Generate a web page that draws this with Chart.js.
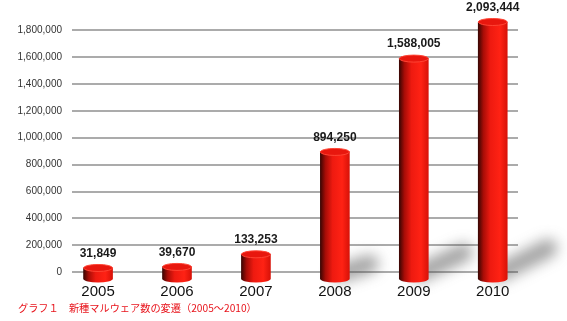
<!DOCTYPE html>
<html>
<head>
<meta charset="utf-8">
<script src="https://cdn.jsdelivr.net/npm/chart.js@4"></script>
<style>
  html, body { margin: 0; padding: 0; background: #fff; }
</style>
</head>
<body>
<canvas id="malware" width="567" height="321"></canvas>
<script>
    var years = [2005, 2006, 2007, 2008, 2009, 2010];
    var malwareCounts = [31849, 39670, 133253, 894250, 1588005, 2093444];
    var yTickValues = [0, 200000, 400000, 600000, 800000, 1000000, 1200000, 1400000, 1600000, 1800000];
    var caption = 'グラフ１　新種マルウェア数の変遷（2005～2010）';

    var ctx = document.getElementById('malware').getContext('2d');

    function cylinderFill(c2d, cx, rx) {
        var g = c2d.createLinearGradient(cx - rx, 0, cx + rx, 0);
        g.addColorStop(0, '#3c0603');
        g.addColorStop(0.18, '#a80d07');
        g.addColorStop(0.42, '#ee1a10');
        g.addColorStop(0.75, '#ff2214');
        g.addColorStop(1, '#d81208');
        return g;
    }

    // red cylinder shading, one gradient per bar
    function barGradient(c) {
        var chart = c.chart;
        var xs = chart.scales.x;
        if (!xs || c.dataIndex === undefined) return '#f01a10';
        var cx = xs.getPixelForValue(years[c.dataIndex]);
        if (!isFinite(cx)) return '#f01a10';
        return cylinderFill(chart.ctx, cx, 14.5);
    }

    var cylinder = {
        id: 'cylinder',
        beforeDatasetsDraw: function (chart) {
            var c = chart.ctx, area = chart.chartArea;
            chart.getDatasetMeta(0).data.forEach(function (bar) {
                var top = Math.max(bar.y, area.top);
                var h = bar.base - top;
                if (h < 60) return;
                c.save();
                c.filter = 'blur(7px)';
                c.strokeStyle = 'rgba(70,70,70,0.5)';
                c.lineWidth = 18;
                c.lineCap = 'round';
                c.beginPath();
                c.moveTo(bar.x + bar.width / 2 - 8, bar.base - 6);
                c.lineTo(bar.x + bar.width / 2 + h * 0.16, bar.base - h * 0.12);
                c.stroke();
                c.restore();
            });
        },
        afterDatasetsDraw: function (chart) {
            var c = chart.ctx, area = chart.chartArea;
            chart.getDatasetMeta(0).data.forEach(function (bar, i) {
                var top = Math.max(bar.y, area.top);
                var rx = bar.width / 2, ry = 3.5;
                c.save();
                // rounded bottom
                c.fillStyle = cylinderFill(c, bar.x, rx);
                c.beginPath();
                c.ellipse(bar.x, bar.base, rx, ry, 0, 0, Math.PI);
                c.fill();
                // top cap
                c.fillStyle = '#e8170e';
                c.strokeStyle = '#ff4434';
                c.lineWidth = 1;
                c.beginPath();
                c.ellipse(bar.x, top, rx, ry, 0, 0, Math.PI * 2);
                c.fill();
                c.stroke();
                // value label
                c.fillStyle = '#1a1a1a';
                c.font = 'bold 12px "Liberation Sans", Arial, sans-serif';
                c.textAlign = 'center';
                c.textBaseline = 'bottom';
                c.fillText(malwareCounts[i].toLocaleString('en-US'), bar.x, top - ry - 5);
                c.restore();
            });
        }
    };

    var chart = new Chart(ctx, {
        type: 'bar',
        data: {
            datasets: [{
                label: '新種マルウェア数',
                data: years.map(function (y, i) { return {x: y, y: malwareCounts[i]}; }),
                backgroundColor: barGradient,
                borderWidth: 0,
                barThickness: 29,
                base: -50000,
                clip: 0
            }]
        },
        options: {
            responsive: false,
            animation: false,
            layout: {
                padding: {left: 18, right: 49, top: 22, bottom: 1}
            },
            plugins: {
                legend: {display: false},
                tooltip: {enabled: false},
                title: {
                    display: true,
                    text: caption,
                    position: 'bottom',
                    align: 'start',
                    color: '#e8141c',
                    font: {family: '"Noto Sans CJK JP", sans-serif', size: 10.2, weight: 'normal'},
                    padding: {top: 0, bottom: 6}
                }
            },
            scales: {
                x: {
                    type: 'linear',
                    offset: false,
                    min: 2004.67,
                    max: 2010.32,
                    grid: {display: false},
                    border: {display: false},
                    afterBuildTicks: function (s) {
                        s.ticks = years.map(function (y) { return {value: y}; });
                    },
                    afterFit: function (s) { s.height = 20.5; },
                    ticks: {
                        autoSkip: false,
                        padding: -6,
                        color: '#111',
                        font: {family: '"Liberation Sans", Arial, sans-serif', size: 15},
                        callback: function (v) { return String(v); }
                    }
                },
                y: {
                    min: -67000,
                    max: 1860000,
                    grid: {color: '#ababab', lineWidth: 2, drawTicks: false},
                    border: {display: false},
                    afterBuildTicks: function (s) {
                        s.ticks = yTickValues.map(function (v) { return {value: v}; });
                    },
                    afterFit: function (s) { s.width = 54; },
                    ticks: {
                        padding: 10,
                        color: '#333',
                        font: {family: '"Liberation Sans", Arial, sans-serif', size: 10},
                        callback: function (v) { return v.toLocaleString('en-US'); }
                    }
                }
            }
        },
        plugins: [cylinder]
    });
</script>
</body>
</html>
